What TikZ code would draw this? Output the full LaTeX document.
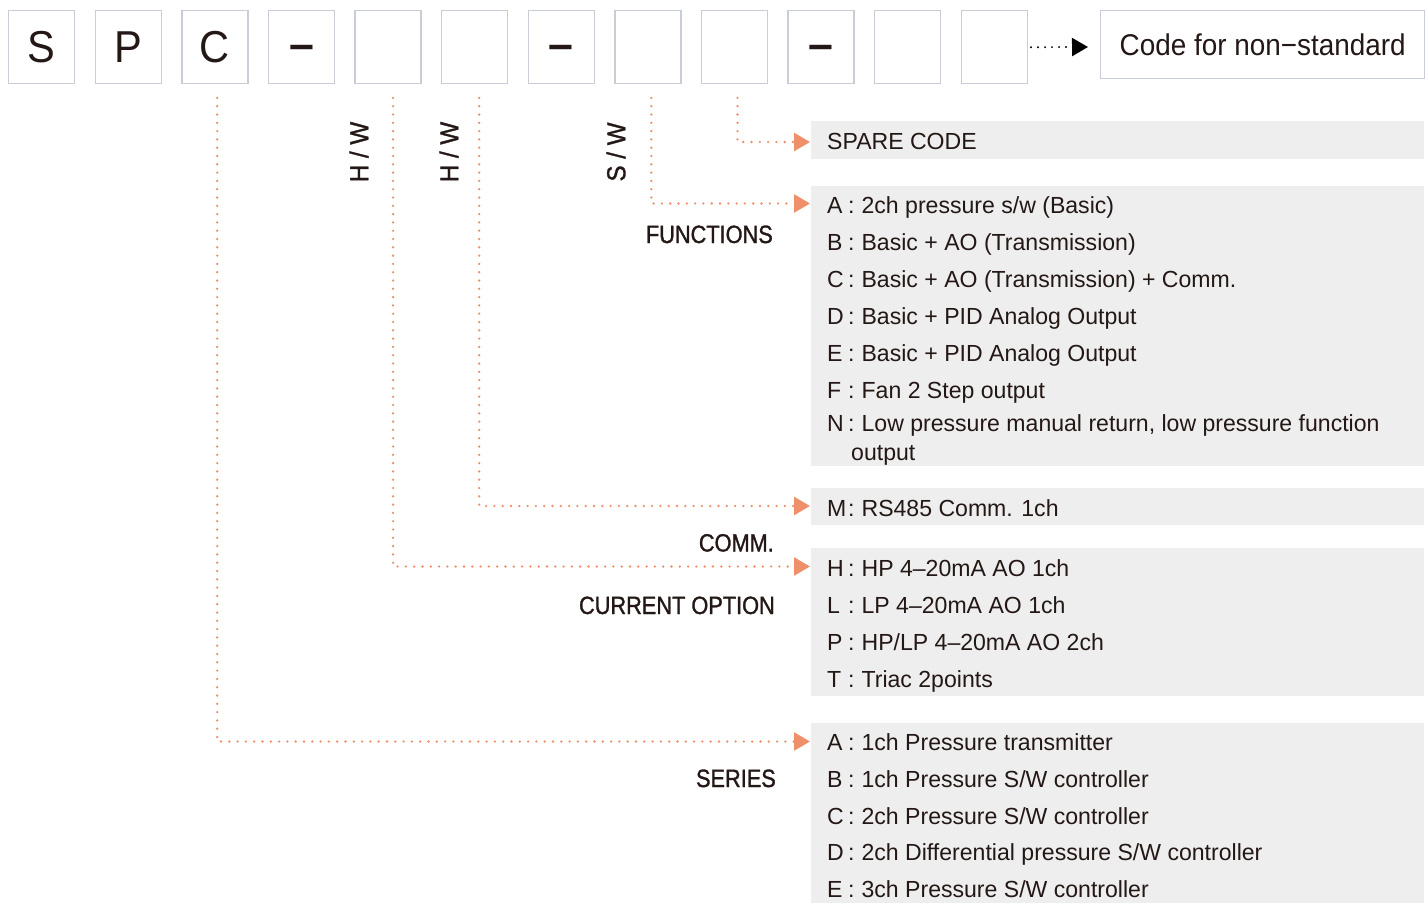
\documentclass[tikz,border=0pt]{standalone}
\usepackage{fontspec}
\setmainfont{Liberation Sans}
\newfontfamily\itemfont{Liberation Sans}[FakeStretch=0.99]
\newfontfamily\labfont{Liberation Sans}[FakeStretch=0.87,FakeBold=1.2]
\newfontfamily\rotfont{Liberation Sans}[FakeStretch=0.93,FakeBold=1.2]
\newfontfamily\codefont{Liberation Sans}[FakeStretch=0.93]
\newfontfamily\dashfont{Liberation Sans Bold}
\usetikzlibrary{arrows.meta}
\definecolor{txtc}{HTML}{231815}
\definecolor{boxc}{HTML}{C8CDD8}
\definecolor{panelc}{HTML}{EEEEEE}
\definecolor{dotc}{HTML}{F0906A}
\newcommand\ic[1]{\makebox[21pt][l]{#1}:\hspace{7pt}}
\newcommand\dsh{\raisebox{-12.5pt}[0pt][0pt]{\dashfont –}}
\tikzset{
  codebox/.style={draw=boxc, line width=1.4pt, fill=white, minimum width=66pt, minimum height=73pt,
    inner sep=0pt, anchor=north west, text=txtc, font=\codefont\fontsize{44.7}{50}\selectfont},
  panel/.style={fill=panelc, inner sep=0pt, anchor=north west, minimum width=613pt},
  itemtxt/.style={anchor=base west, inner sep=0pt, text=txtc, font=\itemfont\fontsize{23.3}{28}\selectfont},
  labtxt/.style={anchor=base east, inner sep=0pt, text=txtc, font=\labfont\fontsize{25}{30}\selectfont},
  rottxt/.style={rotate=90, inner sep=0pt, text=txtc, font=\rotfont\fontsize{26}{30}\selectfont},
  conn/.style={dotc, line width=2.6pt, line cap=round, dash pattern=on 0pt off 8.3pt,
    -{Triangle[length=16pt,width=18pt]}},
  bconn/.style={black, line width=2.2pt, line cap=round, dash pattern=on 0pt off 7pt,
    -{Triangle[length=16pt,width=18pt]}}
}
\begin{document}
\begin{tikzpicture}[x=1pt,y=-1pt]
\useasboundingbox (0,0) rectangle (1428,903);
% top code boxes
\node[codebox] (b1) at (8,10) {S};
\node[codebox] (b2) at (94.6,10) {P};
\node[codebox] (b3) at (181.2,10) {C};
\node[codebox] (b4) at (267.8,10) {\dsh};
\node[codebox] (b5) at (354.4,10) {};
\node[codebox] (b6) at (441,10) {};
\node[codebox] (b7) at (527.6,10) {\dsh};
\node[codebox] (b8) at (614.2,10) {};
\node[codebox] (b9) at (700.8,10) {};
\node[codebox] (b10) at (787.4,10) {\dsh};
\node[codebox] (b11) at (874,10) {};
\node[codebox] (b12) at (960.6,10) {};
\node[draw=boxc, line width=1.4pt, minimum width=324pt, minimum height=68pt, inner sep=0pt,
  anchor=north west, text=txtc, font=\codefont\fontsize{30}{34}\selectfont] (ns) at (1100,10) {Code for non−standard};
\coordinate (tns) at (1088,47);
\draw[bconn] (b12.east) ++(3,0) -- (tns);

% grey panels
\node[panel, minimum height=38pt] (pSp) at (811,121) {};
\node[panel, minimum height=280pt] (pFn) at (811,186) {};
\node[panel, minimum height=37pt] (pCm) at (811,488) {};
\node[panel, minimum height=148pt] (pCo) at (811,548) {};
\node[panel, minimum height=180pt] (pSe) at (811,723) {};

% arrow tips
\coordinate (tSp) at (810,142);
\coordinate (tFn) at (810,203.5);
\coordinate (tCm) at (810,506);
\coordinate (tCo) at (810,566.5);
\coordinate (tSe) at (810,741.5);

% connectors
\draw[conn] (b9.south) ++(3,13.5) |- (tSp);
\draw[conn] (b8.south) ++(3.4,13.5) |- (tFn);
\draw[conn] (b6.south) ++(4.5,13.5) |- (tCm);
\draw[conn] (b5.south) ++(5,13.5) |- (tCo);
\draw[conn] (b3.south) ++(2.3,13.5) |- (tSe);

% rotated labels
\node[rottxt] (r1) at (359,152) {H / W};
\node[rottxt] (r2) at (449,152) {H / W};
\node[rottxt] (r3) at (616,152) {S / W};

% section labels
\node[labtxt] (lFn) at (773,243) {FUNCTIONS};
\node[labtxt] (lCm) at (774,551.5) {COMM.};
\node[labtxt] (lCo) at (775,614) {CURRENT OPTION};
\node[labtxt] (lSe) at (776,787) {SERIES};

% items
\node[itemtxt] (iSp) at (827,149) {SPARE CODE};
\node[itemtxt] (iFA) at (827,213) {\ic{A}2ch pressure s/w (Basic)};
\node[itemtxt] (iFB) at (827,250) {\ic{B}Basic + AO (Transmission)};
\node[itemtxt] (iFC) at (827,287) {\ic{C}Basic + AO (Transmission) + Comm.};
\node[itemtxt] (iFD) at (827,324) {\ic{D}Basic + PID Analog Output};
\node[itemtxt] (iFE) at (827,361) {\ic{E}Basic + PID Analog Output};
\node[itemtxt] (iFF) at (827,398) {\ic{F}Fan 2 Step output};
\node[itemtxt] (iFN) at (827,431.5) {\ic{N}Low pressure manual return, low pressure function};
\node[itemtxt] (iFN2) at (851,460) {output};
\node[itemtxt] (iCM) at (827,516.5) {\ic{M}RS485 Comm. 1ch};
\node[itemtxt] (iCH) at (827,576.5) {\ic{H}HP 4–20mA AO 1ch};
\node[itemtxt] (iCL) at (827,613.5) {\ic{L}LP 4–20mA AO 1ch};
\node[itemtxt] (iCP) at (827,650.5) {\ic{P}HP/LP 4–20mA AO 2ch};
\node[itemtxt] (iCT) at (827,687) {\ic{T}Triac 2points};
\node[itemtxt] (iSA) at (827,750.5) {\ic{A}1ch Pressure transmitter};
\node[itemtxt] (iSB) at (827,787.3) {\ic{B}1ch Pressure S/W controller};
\node[itemtxt] (iSC) at (827,824) {\ic{C}2ch Pressure S/W controller};
\node[itemtxt] (iSD) at (827,860.7) {\ic{D}2ch Differential pressure S/W controller};
\node[itemtxt] (iSE) at (827,897.3) {\ic{E}3ch Pressure S/W controller};
\end{tikzpicture}
\end{document}
